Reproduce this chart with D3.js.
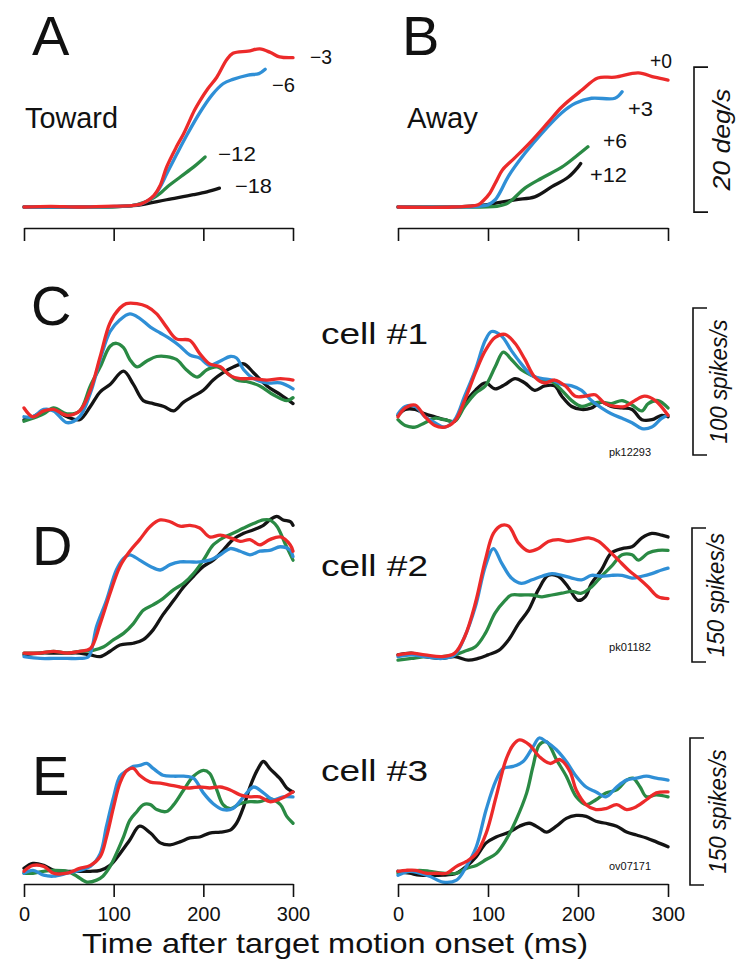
<!DOCTYPE html>
<html><head><meta charset="utf-8">
<script src="https://cdn.jsdelivr.net/npm/d3@7"></script>
<style>body{margin:0;background:#fff}</style>
</head><body><svg id="c" width="750" height="977"></svg>
<script>
// ---------- DATA ----------
const timeTicks = [0, 100, 200, 300];
const tickLabels = ["0", "100", "200", "300"];
const xTitle = "Time after target motion onset (ms)";

// Panel A (toward) eye velocity, deg/s
const aRedT = [0,30,60,90,120,130,137,145,152,159,170,178,190,196,205,215,226,233,250,263,275,285,300];
const aRedV = [0,0.1,0,0.1,0.2,0.4,0.8,1.6,3,5.5,8.3,10.1,13.3,14.6,16.3,17.9,20.3,21.2,21.5,21.8,21.3,20.7,20.6];
const aBlueT = [0,60,120,130,137,145,152,160,170,182,196,210,222,233,250,262,269];
const aBlueV = [0,0,0.2,0.4,0.8,1.5,2.8,4.8,7.2,10,13,15.5,17,17.6,18.2,18.4,19];
const aGreenT = [0,60,120,135,145,152,160,175,190,202];
const aGreenV = [0,0,0.2,0.7,1.3,1.9,2.8,4.2,5.6,6.9];
const aBlackT = [0,60,110,130,159,189,204,218];
const aBlackV = [0,0,0.1,0.3,1,1.7,2.1,2.6];
const aLabels = ["\u22123", "\u22126", "\u221212", "\u221218"];

// Panel B (away) eye velocity, deg/s
const bRedT = [0,60,89,95,102,109,116,130,149,167,182,204,222,241,267,285,300];
const bRedV = [0,0,0.3,0.9,1.9,3.5,5.1,6.8,9.2,11.7,13.8,16.1,17.8,17.9,18.5,17.9,17.5];
const bBlueT = [0,60,100,108,115,122,141,160,182,197,215,241,249];
const bBlueV = [0,0,0.3,1,2.4,4.1,7.4,10.2,13,14.3,15,15,15.9];
const bGreenT = [0,60,110,120,127,141,160,182,197,211];
const bGreenV = [0,0,0.1,0.4,1,2.6,4,5.5,6.9,8.3];
const bBlackT = [0,60,97,130,152,171,189,200,203];
const bBlackV = [0,0,0.3,1,1.4,2.8,4.1,5.5,6];
const bLabels = ["+0", "+3", "+6", "+12"];

// Panel C, cell #1 (spikes/s)
const cLeftRedT = [0,10,22,33,48,62,74,85,96,107,114,126,137,148,159,170,185,196,207,219,230,241,256,271,286,300];
const cLeftRedV = [32,26,30,31,27,30,44,67,90,100,103,103,101,96,87,79,78,69,62,60,54,52,52,51,52,51];
const cLeftBlueT = [0,10,22,33,48,62,74,85,96,107,118,129,141,152,163,174,185,196,207,219,230,237,245,256,271,286,300];
const cLeftBlueV = [26,26,31,30,22,26,42,65,84,92,96,93,87,83,79,74,68,66,61,64,67,66,58,52,49,49,45];
const cLeftGreenT = [0,10,22,33,48,62,74,85,96,103,111,118,126,137,148,159,170,181,193,204,215,226,237,248,263,278,293,300];
const cLeftGreenV = [23,25,28,32,28,30,47,60,74,76,73,65,60,64,67,67,65,58,53,58,60,56,51,50,47,41,37,39];
const cLeftBlackT = [0,10,22,33,48,62,74,85,96,111,122,133,144,156,167,178,189,200,211,222,234,245,256,271,286,300];
const cLeftBlackV = [24,26,30,31,26,24,33,43,48,57,48,37,35,33,30,36,40,44,51,56,60,62,56,47,41,35];
const cRightRedT = [0,8,19,30,41,52,63,74,86,97,108,119,130,141,152,163,174,186,197,208,219,230,241,252,263,274,286,300];
const cRightRedV = [26,32,34,26,20,19,23,37,56,71,80,82,76,65,53,49,51,47,40,40,41,35,33,33,37,40,37,27];
const cRightBlueT = [0,8,19,30,41,52,63,74,86,97,104,115,126,137,149,160,171,182,193,204,215,226,237,249,260,271,282,293,300];
const cRightBlueV = [28,33,33,26,22,19,24,40,58,78,84,81,71,62,54,52,51,48,47,44,37,32,28,25,22,18,19,25,27];
const cRightGreenT = [0,8,19,30,41,52,63,74,86,97,108,117,126,137,149,160,171,182,193,204,215,226,237,249,260,271,278,289,300];
const cRightGreenV = [24,20,19,22,25,24,23,33,42,47,60,70,65,58,54,51,50,44,37,33,35,36,35,37,34,30,35,37,32];
const cRightBlackT = [0,8,19,30,41,52,63,74,86,97,108,119,130,141,152,163,174,182,193,204,215,226,237,249,260,271,282,293,300];
const cRightBlackV = [27,31,31,28,26,24,23,35,44,49,45,48,52,49,44,47,47,40,33,31,32,36,33,32,31,24,24,27,26];

// Panel D, cell #2 (spikes/s)
const dLeftRedT = [0,18,33,48,62,74,85,96,107,118,129,141,152,163,174,185,196,207,219,230,241,252,263,274,286,297,300];
const dLeftRedV = [10,10,12,10,12,15,43,77,107,124,137,152,159,157,152,153,150,140,142,139,135,137,131,137,140,131,124];
const dLeftBlueT = [0,18,33,48,62,72,81,92,103,111,118,129,141,152,163,174,185,196,207,219,230,241,252,263,274,286,297,300];
const dLeftBlueV = [6,4,4,4,4,6,40,69,103,116,120,114,107,103,109,112,112,112,114,120,127,124,120,124,125,129,125,118];
const dLeftGreenT = [0,18,33,48,62,77,89,100,111,122,133,144,155,167,178,189,200,211,222,233,245,256,267,274,282,291,300];
const dLeftGreenV = [10,10,12,10,12,13,17,25,32,43,58,64,71,81,88,99,114,131,139,144,150,155,159,159,152,133,114];
const dLeftBlackT = [0,18,33,48,62,74,85,96,107,122,133,144,155,167,178,189,200,211,222,233,245,256,267,274,282,289,297,300];
const dLeftBlackV = [8,10,10,10,10,8,6,12,19,21,25,36,53,69,84,96,107,114,125,137,144,148,153,159,163,159,157,153];
const dRightRedT = [0,15,30,49,63,74,86,97,106,115,123,134,145,156,167,178,189,200,212,223,234,245,256,267,278,289,300];
const dRightRedV = [8,10,8,6,10,28,66,114,144,153,152,133,124,127,135,137,135,137,139,135,125,114,103,94,84,73,71];
const dRightBlueT = [0,15,30,49,63,74,86,97,106,115,126,137,149,160,171,182,193,204,215,226,237,249,260,271,282,293,300];
const dRightBlueV = [6,8,6,4,8,28,62,107,127,111,94,88,92,96,99,97,94,92,97,96,97,97,94,96,99,103,105];
const dRightGreenT = [0,15,30,49,63,74,86,97,108,119,126,137,149,160,171,182,193,204,215,226,237,249,260,267,278,289,300];
const dRightGreenV = [2,4,6,6,8,12,17,32,55,69,75,75,75,73,75,77,79,77,84,96,107,120,120,114,122,125,125];
const dRightBlackT = [0,15,30,49,63,78,89,100,112,123,134,145,156,167,178,189,200,208,215,226,237,249,260,271,282,293,300];
const dRightBlackV = [8,10,6,4,6,2,4,8,13,25,43,58,81,97,96,84,69,73,88,103,122,127,129,139,144,142,140];

// Panel E, cell #3 (spikes/s)
const eLeftRedT = [0,10,22,33,48,62,74,85,92,100,107,115,122,129,141,152,163,174,185,196,207,219,230,241,252,263,274,286,300];
const eLeftRedV = [14,20,19,12,12,17,20,29,49,80,104,117,119,112,105,104,102,100,99,100,99,100,97,92,90,90,85,88,95];
const eLeftBlueT = [0,10,22,33,48,62,74,85,92,100,107,115,122,129,137,144,155,167,178,189,200,211,222,233,245,256,267,278,289,300];
const eLeftBlueV = [12,15,10,9,12,15,19,32,60,90,111,117,121,122,124,119,112,111,111,109,94,83,77,78,90,100,94,87,90,90];
const eLeftGreenT = [0,10,22,33,48,59,70,81,88,96,103,111,118,126,133,141,148,159,167,178,189,200,207,215,222,230,241,252,263,274,286,293,300];
const eLeftGreenV = [12,12,14,15,14,9,3,5,9,19,32,49,66,75,82,82,77,75,82,97,111,117,114,97,82,78,83,85,85,88,82,70,63];
const eLeftBlackT = [0,10,22,33,48,62,74,85,96,107,118,129,141,152,163,174,185,196,207,219,230,237,245,252,260,267,274,286,293,300];
const eLeftBlackV = [17,22,20,15,14,14,14,15,20,32,46,60,53,43,41,44,48,49,53,54,56,63,80,100,117,126,119,108,99,95];
const eRightRedT = [0,9,20,31,43,54,65,76,87,98,109,120,128,135,146,157,169,180,191,198,209,220,231,243,254,265,276,287,300];
const eRightRedV = [14,15,15,12,12,12,19,24,32,53,90,128,143,148,143,131,124,128,116,97,82,77,78,82,77,80,87,94,95];
const eRightBlueT = [0,13,24,35,50,65,76,87,98,109,117,128,139,150,157,165,176,187,198,209,220,231,243,254,265,276,287,300];
const eRightBlueV = [10,14,12,9,3,5,19,39,77,107,119,121,126,141,150,146,138,126,111,100,95,90,100,107,109,111,109,107];
const eRightGreenT = [0,13,24,35,50,65,76,87,98,109,120,131,143,150,157,165,176,187,198,209,220,231,243,254,261,269,276,287,300];
const eRightGreenV = [12,14,15,14,12,12,17,20,26,32,46,66,94,121,143,146,128,111,90,82,87,94,97,107,109,100,90,92,90];
const eRightBlackT = [0,13,24,35,50,65,76,87,98,109,124,135,146,157,165,176,187,198,209,220,231,243,254,265,276,287,300];
const eRightBlackV = [14,12,10,10,10,12,19,29,43,49,54,60,63,58,54,60,68,71,70,65,63,60,54,51,48,44,39];

// Scale bars: [from, to] in data units, label
const barAB = [-0.7, 19.3]; const barABLabel = "20 deg/s";
const barC = [0, 100]; const barCLabel = "100 spikes/s";
const barD = [0, 150]; const barDLabel = "150 spikes/s";
const barE = [0, 150]; const barELabel = "150 spikes/s";
const cellLabels = ["cell #1", "cell #2", "cell #3"];
const cellIds = ["pk12293", "pk01182", "ov07171"];

// ---------- DRAW ----------
const FONT = "'Liberation Sans', Arial, Helvetica, sans-serif";
const svg = d3.select("#c");
svg.append("rect").attr("width", 750).attr("height", 977).attr("fill", "#fff");

const xL = d3.scaleLinear().domain([0, 300]).range([24, 293]);
const xR = d3.scaleLinear().domain([0, 300]).range([398, 668]);
const yAB = d3.scaleLinear().domain([0, 20]).range([207, 62]);
const yC = d3.scaleLinear().domain([0, 100]).range([455, 308]);
const yD = d3.scaleLinear().domain([0, 150]).range([662, 528]);
const yE = d3.scaleLinear().domain([0, 150]).range([885, 738]);

const COL = { black: "#141414", green: "#2a8a44", blue: "#2f8fd6", red: "#ec2a2a" };

function curve(x, y, T, V, color, w) {
  const data = T.map((t, i) => [t, V[i]]);
  const line = d3.line().x(d => x(d[0])).y(d => y(d[1])).curve(d3.curveCatmullRom.alpha(0.5));
  svg.append("path").datum(data).attr("d", line)
    .attr("fill", "none").attr("stroke", color).attr("stroke-width", w || 3.3)
    .attr("stroke-linejoin", "round").attr("stroke-linecap", "round");
}
function group(x, y, sets) {
  const cols = [COL.black, COL.green, COL.blue, COL.red];
  sets.forEach((s, i) => curve(x, y, s[0], s[1], cols[i]));
}
function text(x, y, s, size, opts) {
  opts = opts || {};
  const t = svg.append("text").attr("x", x).attr("y", y).text(s)
    .attr("font-family", FONT).attr("font-size", size).attr("fill", "#111");
  if (opts.anchor) t.attr("text-anchor", opts.anchor);
  if (opts.len) t.attr("textLength", opts.len).attr("lengthAdjust", "spacingAndGlyphs");
  if (opts.italic) t.attr("font-style", "italic");
  if (opts.rotate) t.attr("transform", `rotate(-90 ${x} ${y})`);
  if (opts.baseline) t.attr("dominant-baseline", opts.baseline);
  return t;
}
function axis(x, yPos, withLabels) {
  const ax = d3.axisBottom(x).tickValues(timeTicks).tickSize(13).tickSizeOuter(0).tickPadding(10)
    .tickFormat((d, i) => withLabels ? tickLabels[i] : "");
  const g = svg.append("g").attr("transform", `translate(0,${yPos})`).call(ax);
  g.select(".domain").attr("stroke", "#111").attr("stroke-width", 1.6);
  g.selectAll(".tick line").attr("stroke", "#111").attr("stroke-width", 1.6);
  g.selectAll(".tick text").attr("font-family", FONT).attr("font-size", 20).attr("fill", "#111");
}
function scaleBar(xPos, y, range, label, labelX) {
  const y0 = y(range[0]), y1 = y(range[1]);
  svg.append("path").attr("d", `M${xPos + 14},${y1}H${xPos}V${y0}H${xPos + 14}`)
    .attr("fill", "none").attr("stroke", "#111").attr("stroke-width", 1.6);
  const len = label.length > 9 ? 124 : 102;
  text(labelX, (y0 + y1) / 2, label, 23, { anchor: "middle", italic: true, rotate: true, baseline: "central", len: len });
}

// Panels A, B
group(xL, yAB, [[aBlackT, aBlackV], [aGreenT, aGreenV], [aBlueT, aBlueV], [aRedT, aRedV]]);
group(xR, yAB, [[bBlackT, bBlackV], [bGreenT, bGreenV], [bBlueT, bBlueV], [bRedT, bRedV]]);
axis(xL, 228, false);
axis(xR, 228, false);

// C
group(xL, yC, [[cLeftBlackT, cLeftBlackV], [cLeftGreenT, cLeftGreenV], [cLeftBlueT, cLeftBlueV], [cLeftRedT, cLeftRedV]]);
group(xR, yC, [[cRightBlackT, cRightBlackV], [cRightGreenT, cRightGreenV], [cRightBlueT, cRightBlueV], [cRightRedT, cRightRedV]]);
// D
group(xL, yD, [[dLeftBlackT, dLeftBlackV], [dLeftGreenT, dLeftGreenV], [dLeftBlueT, dLeftBlueV], [dLeftRedT, dLeftRedV]]);
group(xR, yD, [[dRightBlackT, dRightBlackV], [dRightGreenT, dRightGreenV], [dRightBlueT, dRightBlueV], [dRightRedT, dRightRedV]]);
// E
group(xL, yE, [[eLeftBlackT, eLeftBlackV], [eLeftGreenT, eLeftGreenV], [eLeftBlueT, eLeftBlueV], [eLeftRedT, eLeftRedV]]);
group(xR, yE, [[eRightBlackT, eRightBlackV], [eRightGreenT, eRightGreenV], [eRightBlueT, eRightBlueV], [eRightRedT, eRightRedV]]);
axis(xL, 884, true);
axis(xR, 884, true);

// Scale bars
scaleBar(694, yAB, barAB, barABLabel, 722);
scaleBar(693, yC, barC, barCLabel, 719);
scaleBar(692, yD, barD, barDLabel, 716);
scaleBar(690, yE, barE, barELabel, 718);

// Panel letters
[["A", 32, 55], ["B", 402, 55], ["C", 31, 325], ["D", 32, 565], ["E", 32, 795]]
  .forEach(d => text(d[1], d[2], d[0], 56));
text(25, 128, "Toward", 29, { len: 93 });
text(407, 128, "Away", 29, { len: 71 });

// Curve labels A / B
const aLabPos = [[310, 64], [272, 92], [218, 161], [235, 193]];
const aLabLen = [22, 23, 38, 37];
aLabels.forEach((s, i) => text(aLabPos[i][0], aLabPos[i][1], s, 20, { len: aLabLen[i] }));
const bLabPos = [[650, 68], [628, 116], [603, 148], [590, 182]];
const bLabLen = [22, 25, 24, 37];
bLabels.forEach((s, i) => text(bLabPos[i][0], bLabPos[i][1], s, 20, { len: bLabLen[i] }));

// Cell labels
const cellY = [344, 576, 781];
cellLabels.forEach((s, i) => text(321, cellY[i], s, 29, { len: 107 }));
const idY = [456, 651, 870];
cellIds.forEach((s, i) => text(609, idY[i], s, 11, { len: 42 }));

// Axis title
text(82, 953, xTitle, 28, { len: 506 });
</script>
</body></html>
